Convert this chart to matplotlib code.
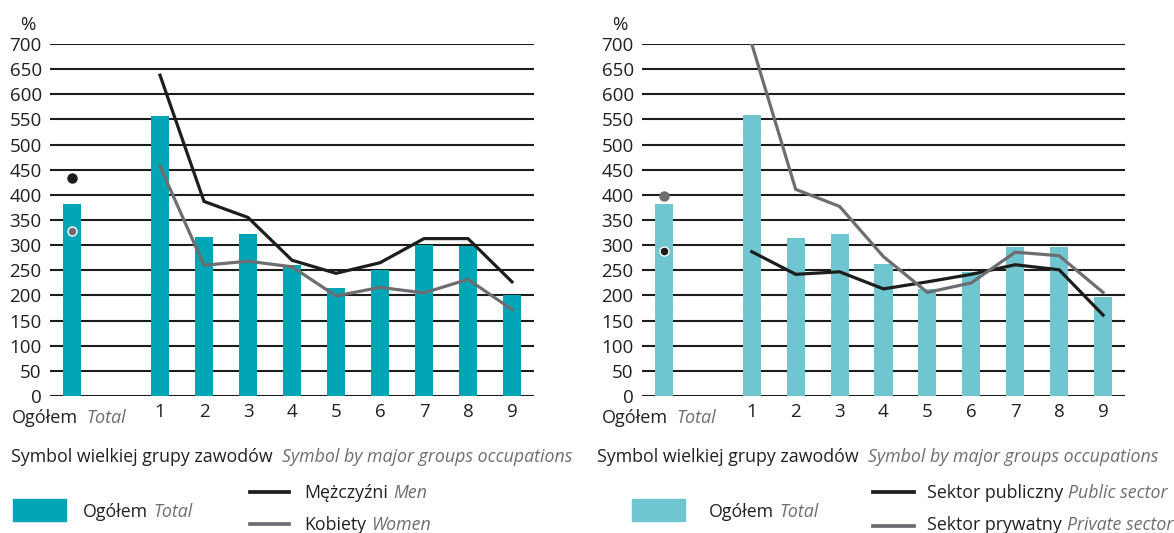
#!/usr/bin/env python3
import matplotlib
matplotlib.use('Agg')
import matplotlib.pyplot as plt

# Category labels (x positions: Ogółem at 0, groups 1-9 at 2..10)
groupLabels = ['1', '2', '3', '4', '5', '6', '7', '8', '9']
groupPos = [2, 3, 4, 5, 6, 7, 8, 9, 10]
totalPos = 0

# Left chart: total, men, women
leftTotalAll = 382
leftTotalGroups = [556, 316, 322, 260, 214, 251, 301, 298, 201]
menAll = 434
menGroups = [638, 387, 355, 270, 244, 265, 313, 313, 227]
womenAll = 328
womenGroups = [457, 260, 268, 257, 199, 216, 205, 232, 172]

# Right chart: total, public, private
rightTotalAll = 382
rightTotalGroups = [559, 314, 322, 263, 213, 247, 297, 297, 197]
publicAll = 289
publicGroups = [287, 242, 247, 213, 227, 242, 261, 251, 161]
privateAll = 398
privateGroups = [700, 411, 377, 277, 206, 225, 286, 279, 206]

W, H = 1174, 533
TEAL = '#00a6b6'
LIGHT = '#70c6d0'
BLACK = '#1d1d1b'
GREY = '#6d6e71'
TEXT = '#231f20'
FONT = 'Open Sans'

plt.rcParams['font.family'] = [FONT, 'DejaVu Sans']

fig = plt.figure(figsize=(W / 100, H / 100), dpi=100)
renderer = fig.canvas.get_renderer()


def px(x, y):
    """Pixel coordinates (top-left origin) to figure fraction."""
    return x / W, 1 - y / H


def twoPart(x, y, roman, italic, size=12.8, gap=8):
    """Draw a roman text followed by an italic grey text on one baseline."""
    t = fig.text(*px(x, y), roman, fontsize=size, color=TEXT, va='baseline', ha='left')
    bb = t.get_window_extent(renderer)
    fig.text((bb.x1 + gap) / W, 1 - y / H, italic, fontsize=size, color=GREY,
             style='italic', va='baseline', ha='left')


def drawPanel(rect, barColor, totalAll, totalGroups, s1All, s1Groups, s2All, s2Groups,
              s1DotEdge, s2DotEdge):
    ax = fig.add_axes(rect)
    ax.set_axisbelow(True)
    ax.bar([totalPos] + groupPos, [totalAll] + totalGroups, width=0.41,
           color=barColor, zorder=2)
    ax.plot(groupPos, s1Groups, color=BLACK, lw=2.3, solid_joinstyle='miter', zorder=3)
    ax.plot(groupPos, s2Groups, color=GREY, lw=2.3, solid_joinstyle='miter', zorder=3)
    ax.plot([totalPos], [s1All], 'o', color=BLACK, ms=6.5,
            mec=s1DotEdge, mew=1, zorder=4)
    ax.plot([totalPos], [s2All], 'o', color=GREY, ms=6.5,
            mec=s2DotEdge, mew=1, zorder=4)

    ax.set_xlim(-0.5, 10.5)
    ax.set_ylim(0, 700)
    ax.set_yticks(range(0, 701, 50))
    ax.yaxis.grid(True, color=BLACK, lw=1.5)
    ax.set_xticks(groupPos)
    ax.set_xticklabels(groupLabels)
    ax.tick_params(length=0, labelsize=13.5, colors=TEXT, pad=6)
    ax.tick_params(axis='x', pad=5)
    for s in ax.spines.values():
        s.set_visible(False)
    return ax


axTop = (533 - 44) / H
axBottom = (533 - 396) / H

drawPanel([50 / W, axBottom, 484 / W, axTop - axBottom], TEAL,
          leftTotalAll, leftTotalGroups, menAll, menGroups, womenAll, womenGroups,
          BLACK, 'white')
drawPanel([642 / W, axBottom, 483 / W, axTop - axBottom], LIGHT,
          rightTotalAll, rightTotalGroups, publicAll, publicGroups, privateAll, privateGroups,
          'white', GREY)

# "Ogółem Total" category labels
twoPart(12, 423, 'Ogółem', 'Total', size=13, gap=8)
twoPart(602, 423, 'Ogółem', 'Total', size=13, gap=8)

# Percent signs
fig.text(*px(28, 25), '%', fontsize=13.5, color=TEXT, ha='center', va='center')
fig.text(*px(620, 25), '%', fontsize=13.5, color=TEXT, ha='center', va='center')

# Axis titles
twoPart(11, 462, 'Symbol wielkiej grupy zawodów', 'Symbol by major groups occupations', gap=9)
twoPart(597, 462, 'Symbol wielkiej grupy zawodów', 'Symbol by major groups occupations', gap=9)

# Left legend
fig.patches.append(plt.Rectangle(px(13, 521), 53 / W, 22 / H, transform=fig.transFigure,
                                 color=TEAL))
twoPart(83, 517, 'Ogółem', 'Total', gap=5)
fig.lines.append(plt.Line2D([250 / W, 289 / W], [1 - 492 / H] * 2, transform=fig.transFigure,
                            color=BLACK, lw=2.7))
fig.lines.append(plt.Line2D([250 / W, 289 / W], [1 - 524 / H] * 2, transform=fig.transFigure,
                            color=GREY, lw=2.7))
twoPart(304, 498, 'Mężczyźni', 'Men', gap=5)
twoPart(304, 530, 'Kobiety', 'Women', gap=5)

# Right legend
fig.patches.append(plt.Rectangle(px(632, 521), 53 / W, 22 / H, transform=fig.transFigure,
                                 color=LIGHT))
twoPart(709, 517, 'Ogółem', 'Total', gap=5)
fig.lines.append(plt.Line2D([873 / W, 914 / W], [1 - 492 / H] * 2, transform=fig.transFigure,
                            color=BLACK, lw=2.7))
fig.lines.append(plt.Line2D([873 / W, 914 / W], [1 - 526 / H] * 2, transform=fig.transFigure,
                            color=GREY, lw=2.7))
twoPart(927, 498, 'Sektor publiczny', 'Public sector', gap=5)
twoPart(927, 530, 'Sektor prywatny', 'Private sector', gap=5)

fig.savefig('out.png', dpi=100)
